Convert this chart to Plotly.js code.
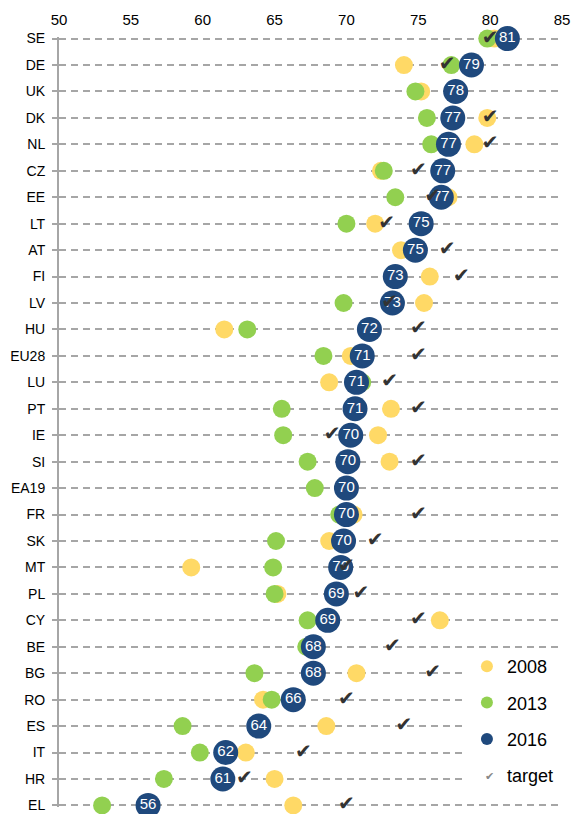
<!DOCTYPE html>
<html><head><meta charset="utf-8">
<script src="https://cdn.plot.ly/plotly-3.0.1.min.js"></script>
<style>html,body{margin:0;padding:0;background:#fff}#chart{width:573px;height:814px}</style>
</head><body><div id="chart"></div>
<script>
const countries = ['SE','DE','UK','DK','NL','CZ','EE','LT','AT','FI','LV','HU','EU28','LU','PT','IE','SI','EA19','FR','SK','MT','PL','CY','BE','BG','RO','ES','IT','HR','EL'];
const rate2008 = [80.3,74.0,75.2,79.8,78.9,72.4,77.1,72.0,73.8,75.8,75.4,61.5,70.3,68.8,73.1,72.2,73.0,70.2,70.5,68.8,59.2,65.2,76.5,67.9,70.7,64.2,68.6,63.0,65.0,66.3];
const rate2013 = [79.8,77.3,74.8,75.6,75.9,72.6,73.4,70.0,74.6,73.3,69.8,63.1,68.4,71.1,65.5,65.6,67.3,67.8,69.5,65.1,64.9,65.0,67.3,67.2,63.6,64.8,58.6,59.8,57.3,53.0];
const rate2016 = [81.2,78.7,77.6,77.4,77.1,76.7,76.6,75.2,74.8,73.4,73.2,71.6,71.1,70.7,70.6,70.3,70.1,70.0,70.0,69.8,69.6,69.3,68.7,67.7,67.7,66.3,63.9,61.6,61.4,56.2];
const target = [80,77,null,80,80,75,76,72.8,77,78,73,75,75,73,75,69,75,null,75,72,70,71,75,73.2,76,70,74,67,62.9,70];
const xTicks = [50,55,60,65,70,75,80,85];

const FONT = 'Liberation Sans, Arial, sans-serif';
const traces = [
  {type:'scatter', mode:'markers', name:'2008', x:rate2008, y:countries, legendgroup:'a',
   marker:{color:'#FFD966', size:18}, cliponaxis:false, hoverinfo:'skip'},
  {type:'scatter', mode:'markers', name:'2013', x:rate2013, y:countries, legendgroup:'b',
   marker:{color:'#92D050', size:18}, cliponaxis:false, hoverinfo:'skip'},
  {type:'scatter', mode:'markers', name:'2016', x:rate2016, y:countries, legendgroup:'c',
   marker:{color:'#1F497D', size:25}, cliponaxis:false, hoverinfo:'skip'},
  {type:'scatter', mode:'text', x:rate2016, y:countries, texttemplate:'%{x:.0f}', showlegend:false,
   textposition:'middle center', textfont:{family:FONT, size:15, color:'#ffffff'}, cliponaxis:false, hoverinfo:'skip'},
  {type:'scatter', mode:'text', x:target, y:countries, texttemplate:'✔', showlegend:false,
   textposition:'middle center', textfont:{family:'DejaVu Sans', size:20, color:'#333333'}, cliponaxis:false, hoverinfo:'skip'},
  {type:'scatter', mode:'markers', name:'target', x:[null], y:[null], legendgroup:'d',
   marker:{color:'rgba(0,0,0,0)', size:12}, hoverinfo:'skip'}
];

const layout = {
  width:573, height:814,
  margin:{l:59, r:11, t:37, b:7},
  paper_bgcolor:'#ffffff', plot_bgcolor:'#ffffff',
  font:{family:FONT, color:'#000000', size:14},
  showlegend:true,
  xaxis:{side:'top', range:[50,85], tickvals:xTicks, ticktext:xTicks.map(String),
    showgrid:false, zeroline:false, showline:false, ticks:'', ticklabelstandoff:8,
    tickfont:{size:15, family:FONT, color:'#000'}, fixedrange:true},
  yaxis:{type:'category', categoryorder:'array', categoryarray:countries, range:[29.06,-0.06],
    showgrid:true, gridcolor:'#a6a6a6', gridwidth:2, griddash:'7px,5px',
    showline:true, linecolor:'#a6a6a6', linewidth:2,
    ticks:'outside', ticklen:5, tickwidth:2, tickcolor:'#a6a6a6', ticklabelstandoff:4,
    tickfont:{size:14, family:FONT, color:'#000'}, fixedrange:true},
  legend:{x:0.811, xanchor:'left', y:0.2065, yanchor:'top', bgcolor:'#ffffff',
    font:{size:18, family:FONT, color:'#000'}, itemsizing:'constant',
    traceorder:'grouped', tracegroupgap:10},
  annotations:[{xref:'paper', yref:'paper', x:0.868, y:0.028, text:'✔', showarrow:false,
    font:{family:'DejaVu Sans', size:11, color:'#888888'}}]
};
Plotly.newPlot('chart', traces, layout, {displayModeBar:false, staticPlot:true});
</script></body></html>
